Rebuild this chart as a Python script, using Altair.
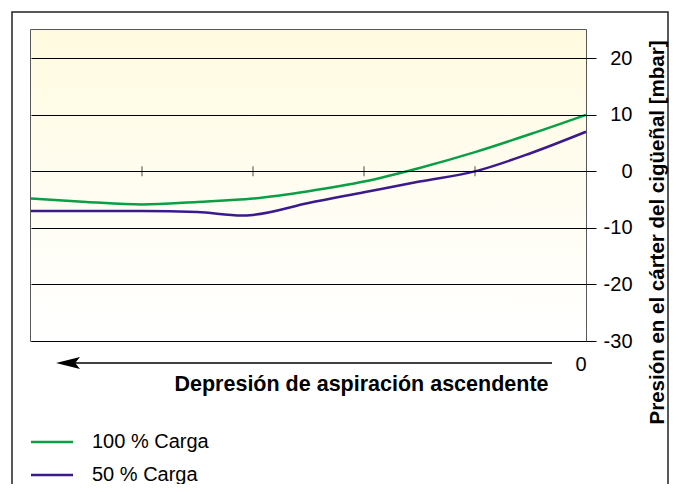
import altair as alt
import pandas as pd

# ---- data ----
series_names = ["100 % Carga", "50 % Carga"]
series_colors = ["#0a9e47", "#3b1a8c"]

x_100 = [5.0, 4.5, 4.0, 3.5, 3.0, 2.5, 2.0, 1.5, 1.0, 0.5, 0.0]
y_100 = [-4.8, -5.4, -5.85, -5.4, -4.8, -3.5, -1.8, 0.6, 3.4, 6.6, 10.0]
x_50 = [5.0, 4.5, 4.0, 3.5, 3.1, 3.0, 2.5, 2.0, 1.5, 1.0, 0.5, 0.0]
y_50 = [-7.0, -7.0, -7.0, -7.2, -7.8, -7.7, -5.6, -3.7, -1.8, 0.0, 3.2, 7.0]

y_ticks = [-30, -20, -10, 0, 10, 20]
x_ticks = [1, 2, 3, 4]
x_label_values = [0]
x_title = "Depresión de aspiración ascendente"
y_title = "Presión en el cárter del cigüeñal [mbar]"

FONT = "Liberation Sans"
W, H = 555, 311

df = pd.concat([
    pd.DataFrame({"series": series_names[0], "depression": x_100, "pressure": y_100}),
    pd.DataFrame({"series": series_names[1], "depression": x_50, "pressure": y_50}),
], ignore_index=True)

xscale = alt.Scale(domain=[0, 5], reverse=True, nice=False, zero=False)
yscale = alt.Scale(domain=[-30, 25], nice=False, zero=False)

one = pd.DataFrame({"k": [0]})

gradient = alt.LinearGradient(
    gradient="linear",
    stops=[
        alt.GradientStop(color="#fffadf", offset=0),
        alt.GradientStop(color="#fffdf1", offset=0.5),
        alt.GradientStop(color="#ffffff", offset=1),
    ],
    x1=0, x2=0, y1=0, y2=1,
)

background = alt.Chart(one).mark_rect(color=gradient).encode(
    x=alt.value(0), x2=alt.value(W), y=alt.value(0), y2=alt.value(H)
)

lines = alt.Chart(df).mark_line(strokeWidth=2.5, interpolate="monotone").encode(
    x=alt.X(
        "depression:Q",
        scale=xscale,
        axis=alt.Axis(
            orient="bottom", values=x_label_values, domain=False, ticks=False, grid=False,
            labelFontSize=20, labelFont=FONT, labelColor="black", labelAlign="right",
            labelBaseline="top", labelPadding=13, labelFlush=False,
            labelExpr="'' + datum.value",
            title=x_title, titleFont=FONT, titleFontSize=21.5, titleFontWeight="bold",
            titleColor="black", titleX=517, titleY=49, titleAlign="right",
            titleBaseline="alphabetic",
        ),
    ),
    y=alt.Y(
        "pressure:Q",
        scale=yscale,
        axis=alt.Axis(
            orient="right", values=y_ticks, grid=True, gridColor="black", gridOpacity=1,
            gridWidth=1, domain=False, tickSize=10, tickColor="black", tickWidth=1,
            labelAlign="right", labelBaseline="middle", labelPadding=36,
            labelFontSize=20, labelFont=FONT, labelColor="black", labelFlush=False,
            labelExpr="'' + datum.value",
            title=y_title, titleFont=FONT, titleFontSize=20.5, titleFontWeight="bold",
            titleColor="black", titleAngle=270, titleX=71, titleY=202,
            titleAlign="center", titleBaseline="middle", zindex=1,
        ),
    ),
    color=alt.Color("series:N", scale=alt.Scale(domain=series_names, range=series_colors), legend=None),
)

zero_ticks = alt.Chart(pd.DataFrame({"d": x_ticks, "z": [0] * len(x_ticks)})).mark_tick(
    orient="vertical", size=10, thickness=1, color="black"
).encode(x=alt.X("d:Q", scale=xscale), y=alt.Y("z:Q", scale=yscale))

arrow_line = alt.Chart(one).mark_rule(color="black", strokeWidth=1.3).encode(
    x=alt.value(521), x2=alt.value(42), y=alt.value(333)
)
arrow_head = alt.Chart(one).mark_point(
    shape="M -1 0 L 1 -0.5 L 0.6 0 L 1 0.5 Z", filled=True, size=576, color="black", opacity=1
).encode(x=alt.value(37), y=alt.value(333))

frame = alt.Chart(one).mark_rect(fillOpacity=0, stroke="#222", strokeWidth=1.5).encode(
    x=alt.value(-19), x2=alt.value(637), y=alt.value(-18), y2=alt.value(480)
)

legend_layers = []
for i, (name, col) in enumerate(zip(series_names, series_colors)):
    ldf = pd.DataFrame({"series": [name]})
    legend_layers.append(
        alt.Chart(ldf).mark_rule(color=col, strokeWidth=2.5).encode(
            x=alt.value(0), x2=alt.value(42), y=alt.value(412 + 33 * i)
        )
    )
    legend_layers.append(
        alt.Chart(ldf).mark_text(
            align="left", baseline="middle", font=FONT, fontSize=20, color="black"
        ).encode(x=alt.value(61), y=alt.value(412 + 33 * i), text="series:N")
    )

chart = alt.layer(
    background, lines, zero_ticks, arrow_line, arrow_head, frame, *legend_layers
).properties(
    width=W, height=H,
    autosize=alt.AutoSizeParams(type="none"),
    padding={"left": 23, "top": 22, "right": 84, "bottom": 143},
).configure_view(stroke="#222", strokeWidth=1.5)

chart.save("out.html", embed_options={"renderer": "svg", "actions": False})
